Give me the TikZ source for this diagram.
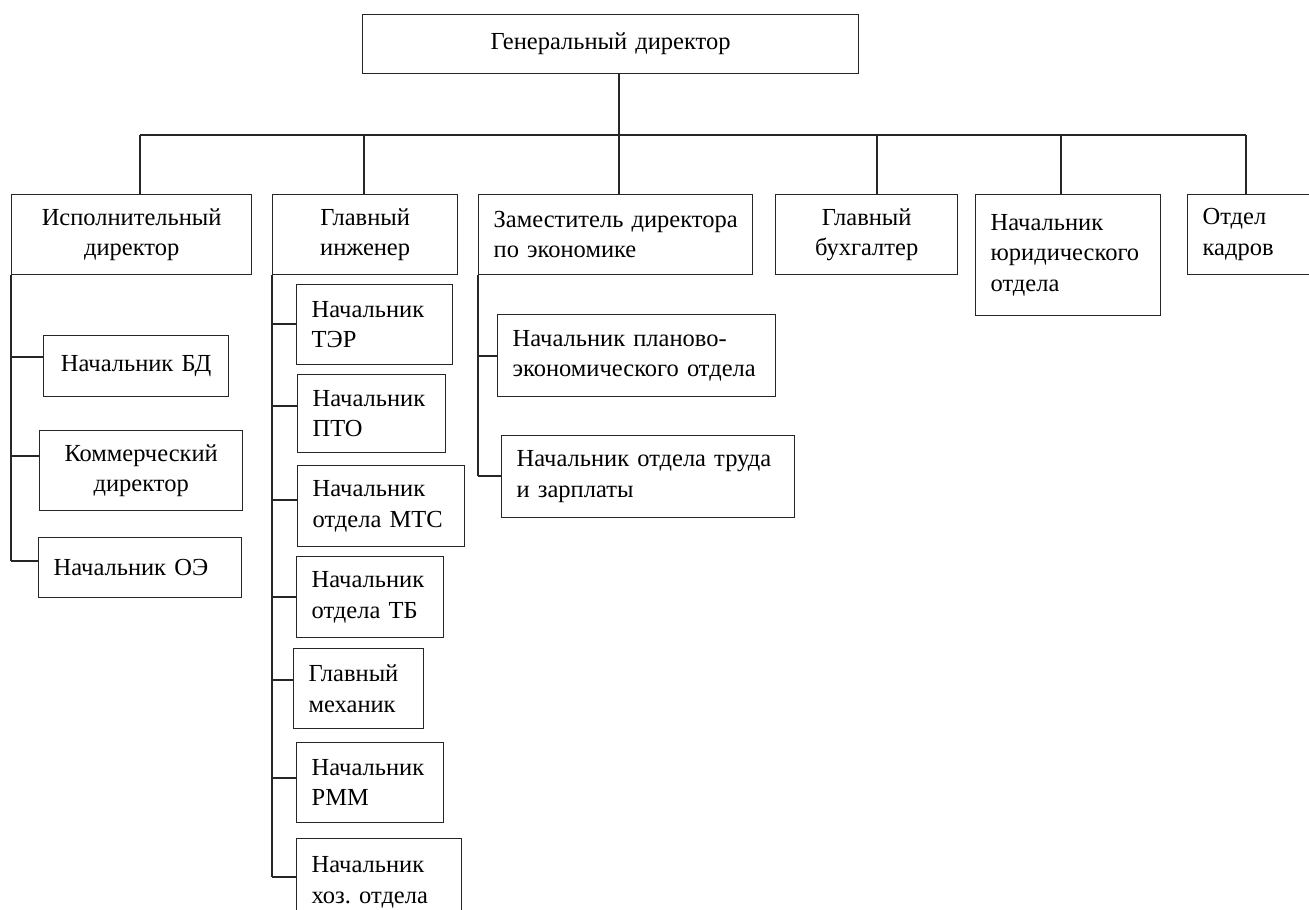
\documentclass[tikz,border=0pt]{standalone}
\usepackage{fontspec}
\setmainfont{Liberation Serif}
\tikzset{
  box/.style={draw=black!85, line width=1.3pt, anchor=north west, inner xsep=15pt, inner ysep=0pt,
    font=\fontsize{24.5}{30.5}\selectfont},
  link/.style={draw=black!85, line width=1.3pt}
}
\newcommand\bx[7]{\node[box, align=#6, text width=\fpeval{#4-#2-30}pt, minimum height=\fpeval{#5-#3}pt] (#1) at (#2,#3) {#7};}
\newcommand\br[3]{\draw[link] (#1.south west |- 0,#3) -- (#2.west |- 0,#3);}
\begin{document}
\begin{tikzpicture}[x=1pt,y=-1pt]
\fill[white] (0,0) rectangle (1309,910);
\useasboundingbox (0,0) rectangle (1309,910);

\bx{gd}{362}{14}{858}{73}{center}{Генеральный директор}
\bx{isp}{11}{194}{251}{274}{center}{Исполнительный\\директор}
\bx{gi}{272}{194}{457}{274}{center}{Главный\\инженер}
\bx{zam}{478}{194}{752}{274}{left}{Заместитель~директора\\по~экономике}
\bx{bu}{775}{194}{957}{274}{center}{Главный\\бухгалтер}
\bx{yur}{975}{194}{1160}{315}{left}{Начальник\\юридического\\отдела}
\bx{kad}{1187}{194}{1320}{274}{left}{Отдел\\кадров}

\bx{bd}{43}{335}{228}{396}{center}{Начальник~БД}
\bx{kom}{39}{430}{242}{510}{center}{Коммерческий\\директор}
\bx{oe}{38}{537}{241}{597}{left}{Начальник~ОЭ}

\bx{ter}{296}{284}{452}{364}{left}{Начальник\\ТЭР}
\bx{pto}{297}{374}{445}{452}{left}{Начальник\\ПТО}
\bx{mts}{297}{465}{464}{546}{left}{Начальник\\отдела~МТС}
\bx{tb}{296}{556}{443}{637}{left}{Начальник\\отдела~ТБ}
\bx{meh}{293}{648}{423}{728}{left}{Главный\\механик}
\bx{rmm}{296}{742}{443}{822}{left}{Начальник\\РММ}
\bx{hoz}{296}{838}{461}{925}{left}{Начальник\\хоз.\ отдела}

\bx{pl}{497}{314}{775}{396}{left}{Начальник~планово-\\экономического~отдела}
\bx{tr}{501}{435}{794}{517}{left}{Начальник~отдела~труда\\и~зарплаты}

% top level connectors
\coordinate (top) at (619,135);
\coordinate (c1) at (140,135);
\coordinate (c2) at (364,135);
\coordinate (c3) at (619,135);
\coordinate (c4) at (877,135);
\coordinate (c5) at (1061,135);
\coordinate (c6) at (1246,135);
\draw[link] (gd.south -| top) -- (top);
\draw[link] (c1) -- (c6);
\foreach \c/\n in {c1/isp,c2/gi,c3/zam,c4/bu,c5/yur,c6/kad}
  \draw[link] (\c) -- (\n.north -| \c);

% executive director branch
\draw[link] (isp.south west) -- (isp.south west |- 0,561);
\br{isp}{bd}{357}
\br{isp}{kom}{456}
\br{isp}{oe}{561}

% chief engineer branch
\draw[link] (gi.south west) -- (gi.south west |- 0,877);
\br{gi}{ter}{324}
\br{gi}{pto}{406}
\br{gi}{mts}{500}
\br{gi}{tb}{597}
\br{gi}{meh}{680}
\br{gi}{rmm}{778}
\br{gi}{hoz}{877}

% deputy director branch
\draw[link] (zam.south west) -- (zam.south west |- 0,476);
\br{zam}{pl}{356}
\br{zam}{tr}{476}
\end{tikzpicture}
\end{document}
